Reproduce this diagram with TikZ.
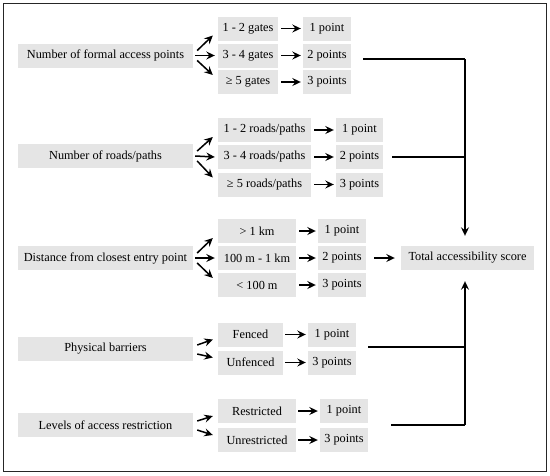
\documentclass[tikz,border=0pt]{standalone}
\usepackage{fontspec}
\setmainfont{Liberation Serif}
\usetikzlibrary{arrows.meta,calc}
\begin{document}
\begin{tikzpicture}[x=1pt,y=-1pt,
  box/.style={fill=black!10,draw=none,inner sep=0pt,minimum height=24pt,font=\fontsize{12.3}{14}\selectfont,anchor=center},
  arr/.style={line width=1.5pt,-{Stealth[length=8.5pt,width=8pt,inset=3pt]}},
  link/.style={line width=1.5pt},
]
\useasboundingbox (0,0) rectangle (550,475);
\draw[line width=0.9pt,black!85] (3,3) rectangle (546,471);
% group 1
\node[box,minimum width=175pt] (m1) at (105.5,55.5) {Number of formal access points};
\node[box,minimum width=60pt] (a1) at (248,28.5) {1 - 2 gates};
\node[box,minimum width=60pt] (b1) at (248,55.5) {3 - 4 gates};
\node[box,minimum width=60pt] (c1) at (248,82) {≥ 5 gates};
\node[box,minimum width=48pt] (pa1) at (327,28.5) {1 point};
\node[box,minimum width=48pt] (pb1) at (327,55.5) {2 points};
\node[box,minimum width=48pt] (pc1) at (327,82) {3 points};
% group 2
\node[box,minimum width=175pt] (m2) at (105.5,156) {Number of roads/paths};
\node[box,minimum width=93pt] (a2) at (264.5,130) {1 - 2 roads/paths};
\node[box,minimum width=93pt] (b2) at (264.5,157) {3 - 4 roads/paths};
\node[box,minimum width=93pt] (c2) at (264.5,184.5) {≥ 5 roads/paths};
\node[box,minimum width=47pt] (pa2) at (359.5,130) {1 point};
\node[box,minimum width=47pt] (pb2) at (359.5,157) {2 points};
\node[box,minimum width=47pt] (pc2) at (359.5,184.5) {3 points};
% group 3
\node[box,minimum width=175pt] (m3) at (105.5,258) {Distance from closest entry point};
\node[box,minimum width=78pt] (a3) at (257,231) {> 1 km};
\node[box,minimum width=78pt] (b3) at (257,258) {100 m - 1 km};
\node[box,minimum width=78pt] (c3) at (257,285) {< 100 m};
\node[box,minimum width=48pt] (pa3) at (342,231) {1 point};
\node[box,minimum width=48pt] (pb3) at (342,258) {2 points};
\node[box,minimum width=48pt] (pc3) at (342,285) {3 points};
% group 4
\node[box,minimum width=175pt] (m4) at (105.5,349) {Physical barriers};
\node[box,minimum width=65pt] (a4) at (250.5,334.5) {Fenced};
\node[box,minimum width=65pt] (c4) at (250.5,362.5) {Unfenced};
\node[box,minimum width=48pt] (pa4) at (332,334.5) {1 point};
\node[box,minimum width=48pt] (pc4) at (332,362.5) {3 points};
% group 5
\node[box,minimum width=175pt] (m5) at (105.5,425) {Levels of access restriction};
\node[box,minimum width=78pt] (a5) at (257,411) {Restricted};
\node[box,minimum width=78pt] (c5) at (257,440) {Unrestricted};
\node[box,minimum width=48pt] (pa5) at (344,411) {1 point};
\node[box,minimum width=48pt] (pc5) at (344,440) {3 points};
% total
\node[box,minimum width=133pt] (tot) at (467.5,258) {Total accessibility score};
% arrows
\foreach \g in {1,2,3}{
  \draw[arr] ($(m\g.east)+(4,-5)$) -- ($(a\g.west)+(-5,7)$);
  \draw[arr] ($(m\g.east)+(2,0)$) -- ($(b\g.west)+(-3,0)$);
  \draw[arr] ($(m\g.east)+(4,5)$) -- ($(c\g.west)+(-5,-7)$);
  \draw[arr] ($(a\g.east)+(3,0)$) -- ($(pa\g.west)+(-2,0)$);
  \draw[arr] ($(b\g.east)+(3,0)$) -- ($(pb\g.west)+(-2,0)$);
  \draw[arr] ($(c\g.east)+(3,0)$) -- ($(pc\g.west)+(-2,0)$);
}
\foreach \g in {4,5}{
  \draw[arr] ($(m\g.east)+(4,-4)$) -- ($(a\g.west)+(-5,5)$);
  \draw[arr] ($(m\g.east)+(4,5)$) -- ($(c\g.west)+(-5,-5)$);
  \draw[arr] ($(a\g.east)+(2,0)$) -- ($(pa\g.west)+(-2,0)$);
  \draw[arr] ($(c\g.east)+(2,0)$) -- ($(pc\g.west)+(-2,0)$);
}
% collector lines
\coordinate (top) at (465,59);
\coordinate (bot) at (465,425);
\draw[link] ($(pb1.east)+(12,3.5)$) -- (top);
\draw[link] ($(pb2.east)+(9,0)$) -- (465,157);
\draw[link] ($(pa4.east |- m4.east)+(12,-2)$) -- (465,347);
\draw[link] ($(c5.east |- m5.east)+(95,0)$) -- (bot);
\draw[arr,shorten >=10pt] (top) -- (top |- tot.north);
\draw[arr,shorten >=11pt] (bot) -- (bot |- tot.south);
\draw[arr] ($(pb3.east)+(8,0)$) -- ($(tot.west)+(-6,0)$);
\end{tikzpicture}
\end{document}
